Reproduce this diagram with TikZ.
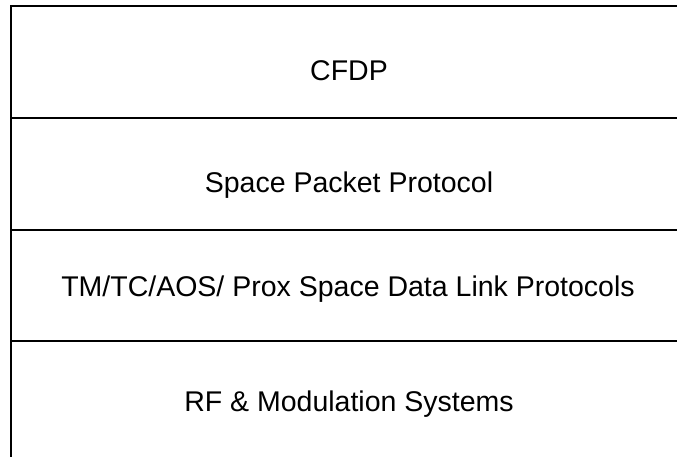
\documentclass[tikz,border=0pt]{standalone}
\usepackage{fontspec}
\setmainfont{Liberation Sans}
\begin{document}
\begin{tikzpicture}[x=1pt, y=-1pt, every node/.style={font=\fontsize{28.5}{34}\selectfont, inner sep=0pt}]

            \useasboundingbox (0,0) rectangle (677,457);

            % Corners
            \coordinate (tl) at (11,6);
            \coordinate (tr) at (677,6);
            \coordinate (bl) at (11,457);
            \coordinate (l1) at (11,118);
            \coordinate (r1) at (677,118);
            \coordinate (l2) at (11,230);
            \coordinate (r2) at (677,230);
            \coordinate (l3) at (11,341);
            \coordinate (r3) at (677,341);

            % Layers
            \node (cfdp) at (349,71) {CFDP};
            \node (spp) at (349,185) {Space Packet Protocol};
            \node (dll) at (348,289) {TM/TC/AOS/ Prox Space Data Link Protocols};
            \node (rf) at (349,404) {RF \& Modulation Systems};

            % Lines
            \draw[line width=2.2pt] (tr) -- (tl) -- (bl);
            \draw[line width=2.2pt] (l1) -- (r1);
            \draw[line width=2.2pt] (l2) -- (r2);
            \draw[line width=2.2pt] (l3) -- (r3);

          \end{tikzpicture}
\end{document}
